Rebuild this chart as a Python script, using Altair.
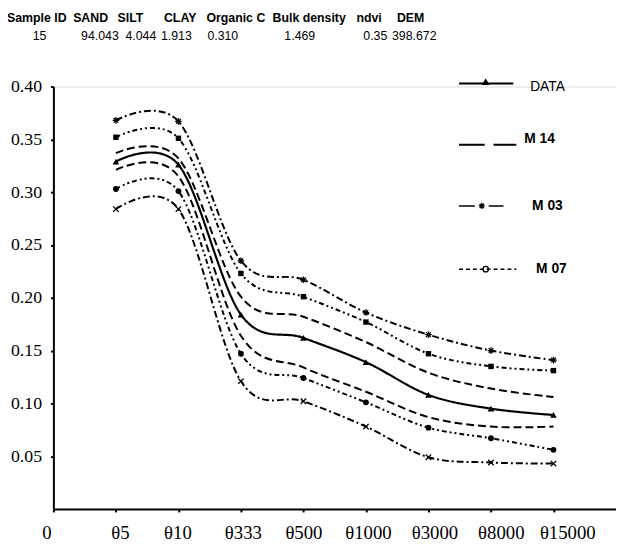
import altair as alt
import pandas as pd

# ---- data ----
x_labels = ["0", "θ5", "θ10", "θ333", "θ500", "θ1000", "θ3000", "θ8000", "θ15000"]
x_pos = [1, 2, 3, 4, 5, 6, 7, 8]

data_obs = [0.329, 0.326, 0.184, 0.162, 0.139, 0.108, 0.095, 0.089]
m14_up = [0.337, 0.332, 0.201, 0.182, 0.158, 0.129, 0.114, 0.106]
m14_lo = [0.321, 0.315, 0.164, 0.134, 0.111, 0.087, 0.078, 0.078]
m07_up = [0.352, 0.351, 0.223, 0.201, 0.177, 0.147, 0.135, 0.131]
m07_lo = [0.303, 0.301, 0.147, 0.124, 0.101, 0.077, 0.067, 0.056]
m03_up = [0.368, 0.367, 0.235, 0.217, 0.186, 0.165, 0.150, 0.141]
m03_lo = [0.284, 0.284, 0.121, 0.102, 0.078, 0.049, 0.044, 0.043]

header_names = ["Sample ID", "SAND", "SILT", "CLAY", "Organic C", "Bulk density", "ndvi", "DEM"]
header_values = ["15", "94.043", "4.044", "1.913", "0.310", "1.469", "0.35", "398.672"]

legend_names = ["DATA", "M 14", "M 03", "M 07"]

series = {
    "DATA": data_obs, "M14 up": m14_up, "M14 lo": m14_lo,
    "M07 up": m07_up, "M07 lo": m07_lo, "M03 up": m03_up, "M03 lo": m03_lo,
}
rows = []
for name, vals in series.items():
    for xi, v in zip(x_pos, vals):
        rows.append({"series": name, "x": xi, "y": v})
df = pd.DataFrame(rows)

# ---- styles ----
ASTER = "M-1,0L1,0M0,-1L0,1M-0.7,-0.7L0.7,0.7M-0.7,0.7L0.7,-0.7"
XSHAPE = "M-1,-1L1,1M-1,1L1,-1"
styles = {
    "DATA": dict(dash=[1, 0], width=2.2, shape="triangle-up", filled=True, size=45),
    "M14 up": dict(dash=[8, 4], width=2, shape=None),
    "M14 lo": dict(dash=[8, 4], width=2, shape=None),
    "M07 up": dict(dash=[5, 3, 2, 3, 2, 3], width=2, shape="square", filled=True, size=30),
    "M07 lo": dict(dash=[5, 3, 2, 3, 2, 3], width=2, shape="circle", filled=True, size=35),
    "M03 up": dict(dash=[7, 3, 2, 3], width=2, shape=ASTER, filled=False, size=45),
    "M03 lo": dict(dash=[7, 3, 2, 3], width=2, shape=XSHAPE, filled=False, size=30),
}

label_expr = "[" + ",".join("'" + s + "'" for s in x_labels) + "][datum.value]"
# per-label horizontal shift (style only), as in the original figure
label_shift_expr = "[-7,4,-1,2,0,2,6,10,14][datum.value]"

xs = alt.X("x:Q", scale=alt.Scale(domain=[0, 9], nice=False, zero=False),
           axis=alt.Axis(values=list(range(len(x_labels))), labelExpr=label_expr,
                         labelOffset=alt.ExprRef(label_shift_expr),
                         grid=False, title=None, domainColor="black", domainWidth=2,
                         tickColor="black", tickWidth=2, tickSize=3,
                         labelFont="Liberation Serif", labelFontSize=19, labelColor="black",
                         labelPadding=12, labelFlush=False))
ys = alt.Y("y:Q", scale=alt.Scale(domain=[0, 0.4], nice=False),
           axis=alt.Axis(values=[0.05, 0.10, 0.15, 0.20, 0.25, 0.30, 0.35, 0.40], format=".2f",
                         grid=False, title=None, domainColor="black", domainWidth=2,
                         tickColor="black", tickWidth=2, tickSize=3,
                         labelFont="Liberation Serif", labelFontSize=18, labelColor="black",
                         labelPadding=9))

layers = []
first = True
for name, st in styles.items():
    base = alt.Chart(df).transform_filter(alt.datum.series == name)
    line = base.mark_line(color="black", strokeWidth=st["width"], strokeDash=st["dash"],
                          interpolate="cardinal").encode(
        x=xs if first else alt.X("x:Q"), y=ys if first else alt.Y("y:Q"))
    first = False
    layers.append(line)
    if st["shape"]:
        pt = base.mark_point(shape=st["shape"], filled=st["filled"], size=st["size"],
                             color="black", strokeWidth=1.3, opacity=1).encode(
            x="x:Q", y="y:Q")
        layers.append(pt)

one = pd.DataFrame({"k": [0]})

# header
head_x = [-47, 20, 65, 112, 155, 222, 307, 348]
val_x = [-21, 28, 73, 109, 156, 234, 314, 343]
for i, (h, v) in enumerate(zip(header_names, header_values)):
    d = pd.DataFrame({"h": [h], "v": [v]})
    layers.append(alt.Chart(d).mark_text(font="Liberation Sans", fontSize=12.5, fontWeight="bold",
                                         align="left", baseline="middle", color="black").encode(
        x=alt.value(head_x[i]), y=alt.value(-69), text="h:N"))
    layers.append(alt.Chart(d).mark_text(font="Liberation Sans", fontSize=12.5,
                                         align="left", baseline="middle", color="black").encode(
        x=alt.value(val_x[i]), y=alt.value(-51), text="v:N"))

# legend
leg = pd.DataFrame({"name": legend_names})
def leg_rule(x1, x2, y, dash, w=2):
    return alt.Chart(one).mark_rule(color="black", strokeWidth=w, strokeDash=dash).encode(
        x=alt.value(x1), x2=alt.value(x2), y=alt.value(y))
def leg_pt(x, y, shape, filled, size):
    return alt.Chart(one).mark_point(shape=shape, filled=filled, size=size, color="black",
                                     strokeWidth=1.3, opacity=1).encode(
        x=alt.value(x), y=alt.value(y))
def leg_text(name, x, y, weight):
    return alt.Chart(leg).transform_filter(alt.datum.name == name).mark_text(
        font="Liberation Sans", fontSize=14, fontWeight=weight, align="left",
        baseline="middle", color="black").encode(x=alt.value(x), y=alt.value(y), text="name:N")

layers += [
    leg_rule(411, 466, -3, [1, 0]), leg_pt(438, -5, "triangle-up", True, 60),
    leg_text("DATA", 483, 1, "normal"),
    leg_rule(411, 469, 59, [26, 9]), leg_text("M 14", 477, 53, "bold"),
    leg_rule(411, 427, 121, [1, 0], 1.5), leg_rule(441, 456, 121, [1, 0], 1.5),
    leg_pt(434, 121, ASTER, False, 40), leg_text("M 03", 485, 121, "bold"),
    leg_rule(411, 469, 185, [4, 3], 1.5), leg_pt(438, 185, "circle", False, 30),
    leg_text("M 07", 489, 185, "bold"),
]

chart = alt.layer(*layers).properties(
    width=570, height=428,
    autosize=alt.AutoSizeParams(type="none"),
    padding={"left": 46, "top": 76, "right": 0, "bottom": 39},
).configure_view(strokeWidth=0).configure(background="white")

chart.save("out.html", embed_options={"renderer": "svg", "actions": False})
